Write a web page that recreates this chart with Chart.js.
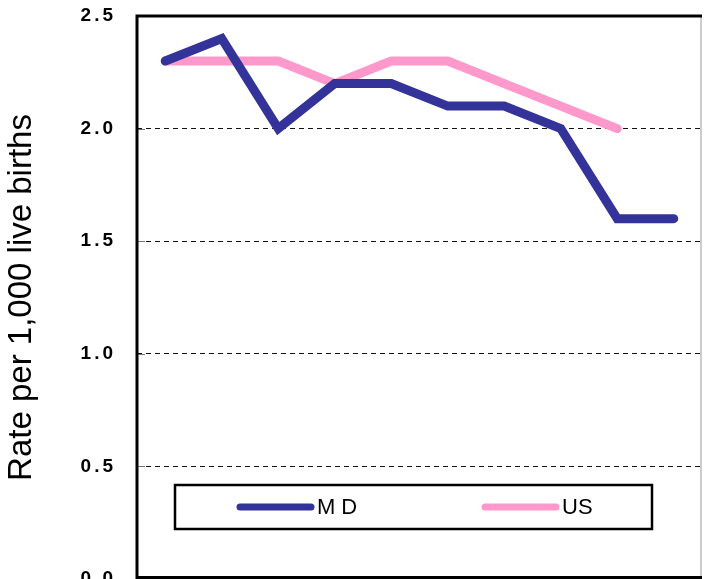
<!DOCTYPE html>
<html>
<head>
<meta charset="utf-8">
<script src="https://cdn.jsdelivr.net/npm/chart.js@4/dist/chart.umd.min.js"></script>
<style>
  html, body { margin: 0; padding: 0; background: #fff; overflow: hidden; }
  #wrap { width: 704px; height: 579px; overflow: hidden; position: relative; }
  canvas { display: block; }
</style>
</head>
<body>
<div id="wrap"><canvas id="c" width="704" height="600"></canvas></div>
<script>
// ---- data ----
const categories = ['1', '2', '3', '4', '5', '6', '7', '8', '9', '10'];
const mdValues = [2.3, 2.4, 2.0, 2.2, 2.2, 2.1, 2.1, 2.0, 1.6, 1.6];
const usValues = [2.3, 2.3, 2.3, 2.2, 2.3, 2.3, 2.2, 2.1, 2.0, null];
const yTickLabels = ['0.0', '0.5', '1.0', '1.5', '2.0', '2.5'];
const seriesNames = ['MD', 'US'];
const yTitle = 'Rate per 1,000 live births';

const FONT = "Arial, 'Liberation Sans', sans-serif";

// Frame + inner tick marks + boxed legend + letter-spaced tick labels
const framePlugin = {
  id: 'frame',
  beforeDatasetsDraw(chart) {
    const { ctx, chartArea: a, scales } = chart;
    ctx.save();
    ctx.strokeStyle = '#777';
    ctx.lineWidth = 1;
    scales.y.ticks.forEach(t => {
      const py = Math.round(scales.y.getPixelForValue(t.value)) + 0.5;
      ctx.beginPath();
      ctx.moveTo(a.left, py);
      ctx.lineTo(a.left + 8, py);
      ctx.stroke();
    });
    ctx.strokeStyle = '#bbb';
    ctx.lineWidth = 1.5;
    ctx.beginPath();
    ctx.moveTo(a.right - 1, a.top);
    ctx.lineTo(a.right - 1, a.bottom);
    ctx.stroke();
    ctx.strokeStyle = '#000';
    ctx.lineWidth = 3;
    ctx.beginPath();
    ctx.moveTo(a.right, a.top);
    ctx.lineTo(a.left, a.top);
    ctx.lineTo(a.left, a.bottom - 1.5);
    ctx.lineTo(a.right, a.bottom - 1.5);
    ctx.stroke();
    ctx.restore();
  },
  afterDatasetsDraw(chart) {
    const { ctx, chartArea: a } = chart;
    const bx = a.left + 38, by = a.top + 469, bw = 477, bh = 44;
    ctx.save();
    ctx.fillStyle = '#fff';
    ctx.fillRect(bx, by, bw, bh);
    ctx.strokeStyle = '#000';
    ctx.lineWidth = 2.5;
    ctx.strokeRect(bx, by, bw, bh);
    const cy = by + bh / 2;
    const starts = [bx + 62, bx + 307];
    chart.data.datasets.forEach((ds, i) => {
      const x0 = starts[i];
      ctx.strokeStyle = ds.borderColor;
      ctx.lineWidth = 7;
      ctx.lineCap = 'round';
      ctx.beginPath();
      ctx.moveTo(x0 + 3, cy);
      ctx.lineTo(x0 + 74, cy);
      ctx.stroke();
      ctx.fillStyle = '#000';
      ctx.font = '22px ' + FONT;
      ctx.textBaseline = 'middle';
      ctx.textAlign = 'left';
      if ('letterSpacing' in ctx) ctx.letterSpacing = (ds.label === seriesNames[0]) ? '6px' : '0px';
      ctx.fillText(ds.label, x0 + 80, cy + 1);
    });
    ctx.restore();
    // tick labels (ticks.z = 1) are drawn after this hook: give them letter spacing
    if ('letterSpacing' in ctx) ctx.letterSpacing = '3px';
  },
  afterDraw(chart) {
    if ('letterSpacing' in chart.ctx) chart.ctx.letterSpacing = '0px';
  }
};

new Chart(document.getElementById('c'), {
  type: 'line',
  data: {
    labels: categories,
    datasets: [
      {
        label: seriesNames[0],
        data: mdValues,
        borderColor: '#333399',
        backgroundColor: '#333399',
        borderWidth: 9,
        borderCapStyle: 'round',
        borderJoinStyle: 'miter',
        pointRadius: 0,
        tension: 0,
        fill: false
      },
      {
        label: seriesNames[1],
        data: usValues,
        borderColor: '#FF99CC',
        backgroundColor: '#FF99CC',
        borderWidth: 9,
        borderCapStyle: 'round',
        borderJoinStyle: 'round',
        pointRadius: 0,
        tension: 0,
        fill: false
      }
    ]
  },
  options: {
    responsive: false,
    animation: false,
    layout: { padding: { left: 0, right: 2, top: 16, bottom: 21 } },
    plugins: {
      legend: { display: false },
      tooltip: { enabled: false }
    },
    scales: {
      x: {
        display: false,
        offset: true
      },
      y: {
        min: 0,
        max: 2.5,
        afterFit(scale) {
          scale.width = 137;
          scale.paddingTop = 0;
          scale.paddingBottom = 0;
        },
        border: { display: false, dash: [5, 4] },
        grid: {
          color: '#111',
          lineWidth: 1,
          drawTicks: false
        },
        ticks: {
          z: 1,
          stepSize: 0.5,
          padding: 21,
          color: '#000',
          font: { family: FONT, size: 19, weight: 'bold' },
          callback(value, index) {
            return yTickLabels[index];
          }
        },
        title: {
          display: true,
          text: yTitle,
          color: '#000',
          font: { family: FONT, size: 33 },
          padding: { top: 2, bottom: 0 }
        }
      }
    }
  },
  plugins: [framePlugin]
});
</script>
</body>
</html>
